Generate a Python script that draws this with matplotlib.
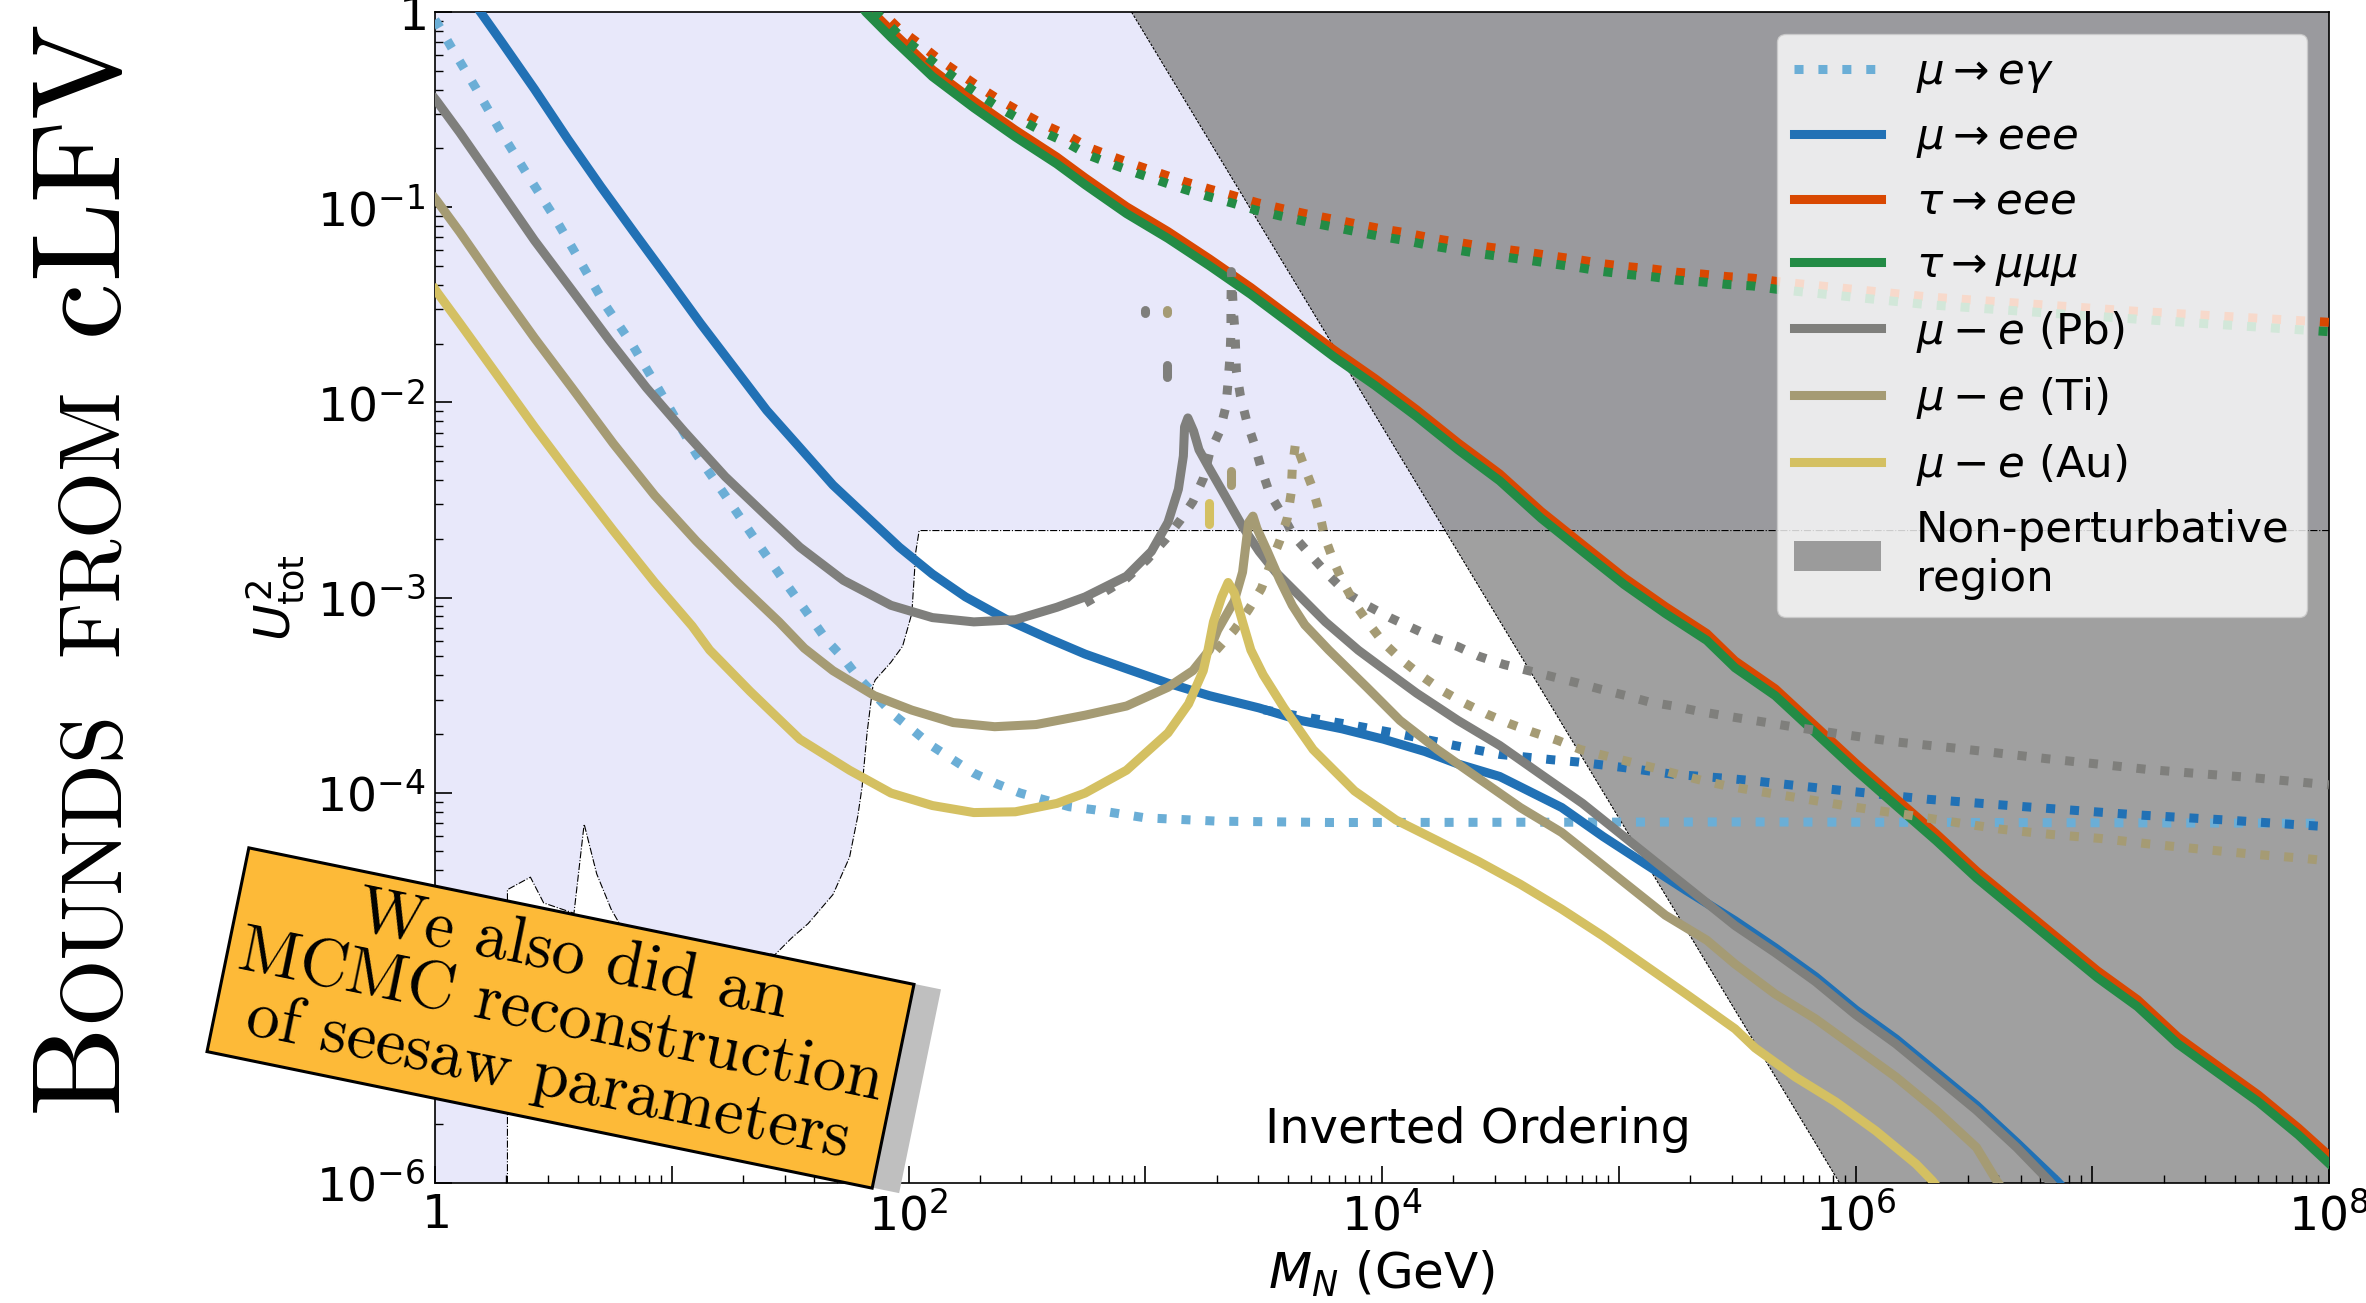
import numpy as np
import matplotlib
matplotlib.use('Agg')
import matplotlib.pyplot as plt
from matplotlib.patches import Rectangle
from matplotlib.ticker import FixedLocator, FuncFormatter, LogLocator, NullFormatter

# ---------------- data (log10 M_N [GeV], log10 U^2_tot) ----------------
meg_logM = [0.0, 0.014, 0.070, 0.175, 0.280, 0.394, 0.508, 0.613, 0.718, 0.837, 0.946, 1.103, 1.226, 1.348,
            1.467, 1.593, 1.655, 1.725, 1.786, 1.935, 2.022, 2.101, 2.189, 2.276, 2.373, 2.472, 2.679, 2.781,
            3.0, 3.306, 3.796, 5.542, 8.0]
meg_logU = [-0.04, -0.066, -0.183, -0.395, -0.618, -0.841, -1.058, -1.277, -1.499, -1.712, -1.935, -2.264,
            -2.477, -2.695, -2.902, -3.114, -3.220, -3.311, -3.407, -3.598, -3.683, -3.762, -3.832, -3.900,
            -3.955, -4.002, -4.072, -4.087, -4.129, -4.146, -4.153, -4.150, -4.157]

meee_logM = [0.18, 0.193, 0.280, 0.420, 0.560, 0.700, 0.840, 0.981, 1.121, 1.261, 1.401, 1.541, 1.681, 1.821,
             1.961, 2.101, 2.241, 2.416, 2.591, 2.746, 2.921, 3.096, 3.271, 3.481, 3.656, 3.831, 4.006, 4.181,
             4.321, 4.497, 4.637, 4.759, 4.934, 5.109, 5.285, 5.491, 5.661, 5.831, 6.001, 6.171, 6.341, 6.511,
             6.681, 6.851, 6.95]
meee_logU = [0.02, -0.002, -0.151, -0.395, -0.650, -0.894, -1.128, -1.361, -1.595, -1.818, -2.041, -2.232,
             -2.424, -2.583, -2.742, -2.880, -2.997, -3.114, -3.210, -3.290, -3.365, -3.439, -3.503, -3.566,
             -3.630, -3.673, -3.726, -3.789, -3.853, -3.917, -4.002, -4.076, -4.225, -4.363, -4.501, -4.656,
             -4.795, -4.943, -5.113, -5.262, -5.432, -5.602, -5.793, -5.99, -6.12]
meee_dot_logM = [3.50, 3.656, 3.884, 4.094, 4.286, 4.391, 4.497, 4.724, 4.829, 5.039, 5.232, 5.46, 5.559,
                 5.882, 6.307, 6.715, 7.191, 7.565, 8.0]
meee_dot_logU = [-3.575, -3.609, -3.656, -3.704, -3.753, -3.779, -3.804, -3.832, -3.843, -3.874, -3.906,
                 -3.927, -3.938, -3.981, -4.034, -4.072, -4.114, -4.140, -4.175]

tau_logM = [1.80, 1.821, 1.926, 2.101, 2.276, 2.451, 2.626, 2.746, 2.921, 3.096, 3.271, 3.446, 3.621, 3.796,
            3.971, 4.146, 4.321, 4.497, 4.672, 4.847, 5.022, 5.197, 5.372, 5.491, 5.661, 5.831, 6.001, 6.171,
            6.341, 6.511, 6.681, 6.851, 7.021, 7.191, 7.361, 7.531, 7.701, 7.871, 8.0]
tmmm_logU = [0.03, -0.002, -0.130, -0.331, -0.491, -0.640, -0.778, -0.885, -1.033, -1.160, -1.300, -1.447,
             -1.606, -1.766, -1.914, -2.073, -2.243, -2.402, -2.594, -2.764, -2.933, -3.082, -3.220, -3.360,
             -3.503, -3.694, -3.885, -4.066, -4.246, -4.437, -4.607, -4.777, -4.947, -5.096, -5.287, -5.436,
             -5.584, -5.754, -5.900]
teee_logU = [0.065, 0.033, -0.095, -0.296, -0.456, -0.605, -0.743, -0.850, -0.998, -1.125, -1.265, -1.412,
             -1.571, -1.731, -1.879, -2.038, -2.208, -2.367, -2.559, -2.729, -2.898, -3.047, -3.185, -3.325,
             -3.468, -3.659, -3.850, -4.031, -4.211, -4.402, -4.572, -4.742, -4.912, -5.061, -5.252, -5.401,
             -5.549, -5.719, -5.860]

taudot_logM = [1.85, 1.882, 1.961, 2.040, 2.127, 2.215, 2.303, 2.390, 2.478, 2.574, 2.670, 2.763, 2.868,
               2.964, 3.069, 3.166, 3.271, 3.367, 3.472, 3.577, 3.682, 3.787, 3.884, 3.989, 4.094, 4.199,
               4.304, 4.409, 4.514, 4.619, 4.724, 4.829, 4.934, 5.039, 5.144, 5.249, 5.354, 5.459, 5.567,
               5.669, 6.307, 7.191, 8.0]
tmmm_dot_logU = [0.0, -0.023, -0.119, -0.193, -0.278, -0.353, -0.427, -0.495, -0.555, -0.618, -0.671,
                 -0.735, -0.784, -0.826, -0.869, -0.909, -0.947, -0.979, -1.017, -1.047, -1.075, -1.100,
                 -1.124, -1.149, -1.170, -1.196, -1.217, -1.238, -1.255, -1.272, -1.291, -1.309, -1.330,
                 -1.345, -1.357, -1.374, -1.383, -1.396, -1.404, -1.421, -1.500, -1.574, -1.638]
teee_dot_logU = [0.03, 0.007, -0.087, -0.158, -0.241, -0.315, -0.388, -0.455, -0.515, -0.578, -0.631,
                 -0.695, -0.744, -0.786, -0.829, -0.869, -0.907, -0.939, -0.977, -1.007, -1.035, -1.060,
                 -1.084, -1.109, -1.130, -1.156, -1.177, -1.198, -1.215, -1.232, -1.251, -1.269, -1.290,
                 -1.305, -1.317, -1.334, -1.343, -1.356, -1.364, -1.381, -1.460, -1.534, -1.590]

pb_logM = [0.0, 0.009, 0.105, 0.263, 0.420, 0.578, 0.735, 0.893, 1.051, 1.226, 1.401, 1.541, 1.725, 1.926,
           2.101, 2.276, 2.451, 2.627, 2.746, 2.921, 3.026, 3.096, 3.140, 3.161, 3.166, 3.180, 3.204, 3.227,
           3.271, 3.341, 3.411, 3.481, 3.551, 3.656, 3.761, 3.900, 4.000, 4.146, 4.321, 4.497, 4.672, 4.847,
           5.022, 5.197, 5.372, 5.491, 5.661, 5.831, 6.001, 6.171, 6.341, 6.511, 6.681, 6.817, 6.9]
pb_logU = [-0.445, -0.459, -0.618, -0.894, -1.170, -1.425, -1.680, -1.925, -2.147, -2.381, -2.583, -2.742,
           -2.912, -3.040, -3.103, -3.125, -3.114, -3.050, -2.997, -2.891, -2.764, -2.615, -2.445, -2.275,
           -2.126, -2.080, -2.147, -2.243, -2.339, -2.487, -2.636, -2.764, -2.870, -2.997, -3.125, -3.270,
           -3.360, -3.490, -3.630, -3.758, -3.907, -4.055, -4.225, -4.395, -4.565, -4.681, -4.820, -4.968,
           -5.138, -5.287, -5.457, -5.627, -5.818, -5.988, -6.1]
pb_dot_logM = [2.746, 2.851, 2.921, 3.008, 3.087, 3.148, 3.201, 3.245, 3.271, 3.315, 3.341, 3.350, 3.358,
               3.362, 3.362, 3.364, 3.368, 3.372, 3.379, 3.385, 3.402, 3.428, 3.463, 3.490, 3.525, 3.577,
               3.630, 3.700, 3.770, 3.849, 3.936, 4.033, 4.129, 4.225, 4.321, 4.409, 4.514, 4.619, 4.724,
               4.829, 4.926, 5.031, 5.127, 5.232, 5.337, 5.442, 5.551, 5.763, 5.967, 6.179, 6.392, 6.596,
               6.808, 7.021, 7.233, 7.446, 7.658, 7.871, 8.0]
pb_dot_logU = [-3.029, -2.955, -2.902, -2.806, -2.700, -2.604, -2.509, -2.392, -2.264, -2.147, -2.020,
               -1.893, -1.765, -1.638, -1.510, -1.330, -1.426, -1.530, -1.638, -1.840, -1.967, -2.094, -2.222,
               -2.339, -2.466, -2.572, -2.689, -2.785, -2.880, -2.976, -3.040, -3.103, -3.157, -3.210, -3.252,
               -3.301, -3.343, -3.375, -3.407, -3.439, -3.471, -3.503, -3.535, -3.556, -3.583, -3.605, -3.626,
               -3.668, -3.705, -3.741, -3.768, -3.796, -3.826, -3.853, -3.881, -3.902, -3.921, -3.945, -3.960]

ti_logM = [0.0, 0.009, 0.105, 0.263, 0.420, 0.578, 0.753, 0.928, 1.103, 1.278, 1.453, 1.56, 1.681, 1.856,
           2.014, 2.189, 2.364, 2.539, 2.746, 2.921, 3.096, 3.201, 3.271, 3.306, 3.376, 3.411, 3.428, 3.437,
           3.455, 3.472, 3.516, 3.569, 3.621, 3.674, 3.775, 3.936, 4.076, 4.234, 4.409, 4.584, 4.759, 4.847,
           5.022, 5.197, 5.372, 5.491, 5.661, 5.831, 6.001, 6.171, 6.341, 6.511, 6.596, 6.65]
ti_logU = [-0.955, -0.969, -1.128, -1.404, -1.670, -1.925, -2.211, -2.477, -2.710, -2.923, -3.125, -3.26,
           -3.375, -3.503, -3.577, -3.641, -3.662, -3.651, -3.603, -3.556, -3.460, -3.375, -3.269, -3.167,
           -3.018, -2.870, -2.700, -2.615, -2.583, -2.647, -2.764, -2.912, -3.040, -3.140, -3.269, -3.460,
           -3.630, -3.779, -3.928, -4.076, -4.204, -4.289, -4.459, -4.628, -4.756, -4.878, -5.032, -5.159,
           -5.308, -5.457, -5.627, -5.818, -5.988, -6.08]
ti_dot_logM = [3.30, 3.376, 3.437, 3.490, 3.533, 3.568, 3.600, 3.616, 3.621, 3.635, 3.665, 3.705, 3.735,
               3.758, 3.793, 3.831, 3.884, 3.945, 4.006, 4.085, 4.173, 4.260, 4.348, 4.444, 4.540, 4.637,
               4.742, 4.838, 4.943, 5.048, 5.153, 5.249, 5.354, 5.460, 5.559, 5.771, 5.984, 6.188, 6.409,
               6.613, 6.825, 7.038, 7.242, 7.454, 7.667, 7.879, 8.0]
ti_dot_logU = [-3.27, -3.167, -3.061, -2.955, -2.817, -2.710, -2.594, -2.466, -2.339, -2.207, -2.307,
               -2.434, -2.562, -2.689, -2.806, -2.912, -3.029, -3.135, -3.231, -3.322, -3.407, -3.481, -3.541,
               -3.598, -3.647, -3.690, -3.732, -3.779, -3.811, -3.843, -3.874, -3.906, -3.938, -3.966, -3.987,
               -4.029, -4.072, -4.108, -4.150, -4.187, -4.214, -4.235, -4.263, -4.289, -4.314, -4.335, -4.350]

au_logM = [0.0, 0.009, 0.105, 0.263, 0.420, 0.578, 0.753, 0.928, 1.086, 1.16, 1.331, 1.541, 1.751, 1.926,
           2.101, 2.276, 2.451, 2.627, 2.746, 2.921, 3.096, 3.183, 3.245, 3.265, 3.288, 3.323, 3.350, 3.376,
           3.411, 3.446, 3.498, 3.586, 3.709, 3.884, 4.059, 4.234, 4.409, 4.584, 4.759, 4.934, 5.109, 5.285,
           5.491, 5.576, 5.746, 5.916, 6.086, 6.256, 6.324, 6.4]
au_logU = [-1.42, -1.436, -1.595, -1.861, -2.126, -2.381, -2.657, -2.923, -3.146, -3.269, -3.481, -3.726,
           -3.885, -4.002, -4.066, -4.102, -4.098, -4.055, -4.002, -3.885, -3.694, -3.545, -3.375, -3.269,
           -3.125, -2.997, -2.923, -2.976, -3.125, -3.269, -3.396, -3.566, -3.779, -3.991, -4.140, -4.246,
           -4.353, -4.469, -4.597, -4.735, -4.883, -5.032, -5.21, -5.308, -5.457, -5.584, -5.733, -5.903,
           -5.988, -6.1]

# short visible remnants of very narrow resonance spikes of the dotted curves
pb_spike_logM = [[2.999, 2.999], [3.090, 3.090]]
pb_spike_logU = [[-1.525, -1.540], [-1.808, -1.872]]
ti_spike_logM = [[3.090, 3.090], [3.362, 3.362]]
ti_spike_logU = [[-1.525, -1.540], [-2.354, -2.424]]
au_spike_logM = [[3.271, 3.271]]
au_spike_logU = [[-2.514, -2.621]]

# excluded region boundary (light lavender) and non-perturbative region boundary
bound_logM = [0.306, 0.306, 0.403, 0.459, 0.587, 0.630, 0.683, 0.744, 0.779, 1.0, 1.25, 1.436, 1.506, 1.576,
              1.681, 1.751, 1.786, 1.804, 1.825, 1.850, 1.860, 1.925, 1.975, 2.014, 2.031, 2.045]
bound_logU = [-6.0, -4.497, -4.433, -4.565, -4.618, -4.161, -4.416, -4.597, -4.671, -4.74, -4.80, -4.830,
              -4.745, -4.671, -4.522, -4.331, -4.119, -3.970, -3.694, -3.450, -3.422, -3.333, -3.25, -3.082,
              -2.764, -2.657]
npert_logM = [2.942, 5.933]
npert_logU = [0.0, -6.0]

labels = [r'$\mu\rightarrow e\gamma$', r'$\mu\rightarrow eee$', r'$\tau\rightarrow eee$',
          r'$\tau\rightarrow \mu\mu\mu$', r'$\mu-e$ (Pb)', r'$\mu-e$ (Ti)', r'$\mu-e$ (Au)',
          'Non-perturbative\nregion']
colors = {'meg': '#6BAED6', 'meee': '#2171B5', 'teee': '#D94801', 'tmmm': '#238B45',
          'pb': '#7F7F7C', 'ti': '#A59B74', 'au': '#D4C062'}

# ---------------- figure ----------------
W, H, DPI = 2366, 1303, 100
fig = plt.figure(figsize=(W / DPI, H / DPI), dpi=DPI)
ax = fig.add_axes([435 / W, 120 / H, 1894 / W, 1171 / H])
ax.set_xscale('log')
ax.set_yscale('log')

P = lambda a: 10.0 ** np.asarray(a, dtype=float)

# lavender region
horiz = bound_logU[-1]
lav_x = [0.0, 8.0, 8.0] + bound_logM[::-1] + [0.0]
lav_y = [0.0, 0.0, horiz] + bound_logU[::-1] + [-6.0]
ax.fill(P(lav_x), P(lav_y), color='#E8E8FA', lw=0, zorder=0)
ax.plot(P(bound_logM + [8.0]), P(bound_logU + [horiz]), color='k', lw=0.8, ls='-.', zorder=1.6)

# non-perturbative region
gx = [npert_logM[0], 8.0, 8.0, npert_logM[1]]
gy = [npert_logU[0], 0.0, -6.0, npert_logU[1]]
gpatch = ax.fill(P(gx), P(gy), color='gray', alpha=0.75, lw=0, zorder=1.5, label=labels[7])[0]
ax.plot(P(npert_logM), P(npert_logU), color='k', lw=0.8, ls=(0, (2.5, 1.2)), zorder=1.55)

LW = 6.5
h_meg, = ax.plot(P(meg_logM), P(meg_logU), ls=':', lw=LW, color=colors['meg'], zorder=3, label=labels[0])
h_meee, = ax.plot(P(meee_logM), P(meee_logU), lw=LW, color=colors['meee'], zorder=3, label=labels[1])
ax.plot(P(meee_dot_logM), P(meee_dot_logU), ls=':', lw=LW, color=colors['meee'], zorder=3)
h_teee, = ax.plot(P(tau_logM), P(teee_logU), lw=LW, color=colors['teee'], zorder=3, label=labels[2])
ax.plot(P(taudot_logM), P(teee_dot_logU), ls=':', lw=LW, color=colors['teee'], zorder=3)
h_tmmm, = ax.plot(P(tau_logM), P(tmmm_logU), lw=LW, color=colors['tmmm'], zorder=3, label=labels[3])
ax.plot(P(taudot_logM), P(tmmm_dot_logU), ls=':', lw=LW, color=colors['tmmm'], zorder=3)
h_pb, = ax.plot(P(pb_logM), P(pb_logU), lw=LW, color=colors['pb'], zorder=3, label=labels[4])
ax.plot(P(pb_dot_logM), P(pb_dot_logU), ls=':', lw=LW, color=colors['pb'], zorder=3)
h_ti, = ax.plot(P(ti_logM), P(ti_logU), lw=LW, color=colors['ti'], zorder=3, label=labels[5])
ax.plot(P(ti_dot_logM), P(ti_dot_logU), ls=':', lw=LW, color=colors['ti'], zorder=3)
h_au, = ax.plot(P(au_logM), P(au_logU), lw=LW, color=colors['au'], zorder=3, label=labels[6])
for sx, sy, c in [(pb_spike_logM, pb_spike_logU, 'pb'), (ti_spike_logM, ti_spike_logU, 'ti'),
                  (au_spike_logM, au_spike_logU, 'au')]:
    for xx, yy in zip(sx, sy):
        ax.plot(P(xx), P(yy), lw=LW, color=colors[c], solid_capstyle='round', zorder=3)

ax.set_xlim(1, 1e8)
ax.set_ylim(1e-6, 1)

# ticks
ax.xaxis.set_major_locator(FixedLocator(10.0 ** np.arange(0, 9)))
ax.yaxis.set_major_locator(FixedLocator(10.0 ** np.arange(-6, 1)))


def fmt_x(v, pos):
    e = int(round(np.log10(v)))
    if e % 2:
        return ''
    return r'$\mathdefault{1}$' if e == 0 else r'$\mathdefault{10^{%d}}$' % e


def fmt_y(v, pos):
    e = int(round(np.log10(v)))
    return r'$\mathdefault{1}$' if e == 0 else r'$\mathdefault{10^{%d}}$' % e


ax.xaxis.set_major_formatter(FuncFormatter(fmt_x))
ax.yaxis.set_major_formatter(FuncFormatter(fmt_y))
for axis in (ax.xaxis, ax.yaxis):
    axis.set_minor_locator(LogLocator(base=10, subs=np.arange(2, 10), numticks=100))
    axis.set_minor_formatter(NullFormatter())
ax.tick_params(which='both', direction='in', top=False, right=False, labelsize=34, pad=7)
ax.tick_params(which='major', length=12, width=1.2)
ax.tick_params(which='minor', length=6, width=1.0)
for s in ax.spines.values():
    s.set_linewidth(1.2)

ax.set_xlabel(r'$M_N$ (GeV)', fontsize=36, labelpad=6)
ax.set_ylabel(r'$U^2_{\rm tot}$', fontsize=36, labelpad=6)

ax.text(10 ** 3.506, 10 ** -5.795, 'Inverted Ordering', fontsize=34.5, va='baseline', ha='left', zorder=4)

leg = ax.legend(handles=[h_meg, h_meee, h_teee, h_tmmm, h_pb, h_ti, h_au, gpatch],
                loc='upper right', fontsize=31.3, framealpha=0.8, labelspacing=0.48)
leg.set_zorder(5)

# ---------------- left vertical title (small caps emulation) ----------------
fig.canvas.draw()
rend = fig.canvas.get_renderer()
S = 92
pieces = [('B', S), ('OUNDS', S * 0.68), (None, 0.42), ('FROM', S * 0.68), (None, 0.42), ('c', S),
          ('LFV', S)]
ypix = 191.0
xpix = 117.0
for txt, size in pieces:
    if txt is None:
        ypix += size * S * DPI / 72.0
        continue
    t = fig.text(xpix / W, ypix / H, txt, rotation=90, rotation_mode='anchor', ha='left', va='baseline',
                 fontsize=size, family='cmr10')
    bb = t.get_window_extent(renderer=rend)
    ypix += bb.height

# ---------------- orange note box ----------------
cx, cy = 560.5, 285.0
bw, bh, ang = 679.0, 208.0, -11.6
inch = 1.0 / DPI
shadow = Rectangle(((cx + 27 - bw / 2) * inch, (cy - 5 - bh / 2) * inch), bw * inch, bh * inch, angle=ang,
                   rotation_point='center', transform=fig.dpi_scale_trans, facecolor='#BFBFBF',
                   edgecolor='none', zorder=9)
box = Rectangle(((cx - bw / 2) * inch, (cy - bh / 2) * inch), bw * inch, bh * inch, angle=ang,
                rotation_point='center', transform=fig.dpi_scale_trans, facecolor='#FDBA38',
                edgecolor='black', lw=2.2, zorder=10)
fig.add_artist(shadow)
fig.add_artist(box)
fig.text(cx / W, cy / H, 'We also did an\nMCMC reconstruction\nof seesaw parameters', rotation=ang,
         rotation_mode='anchor', ha='center', va='center', multialignment='center', fontsize=48,
         family='cmr10', linespacing=1.05, zorder=11)

fig.savefig('out.png', dpi=DPI)
